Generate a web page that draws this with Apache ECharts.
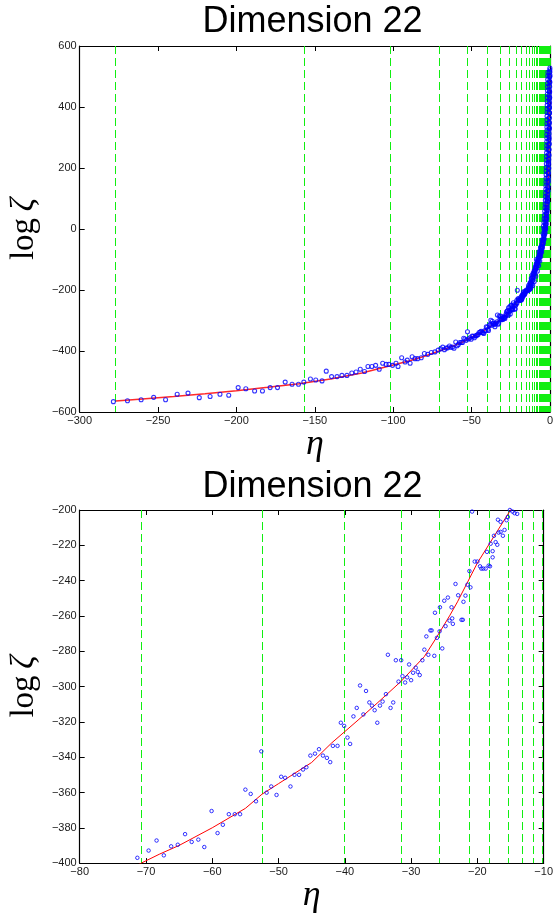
<!DOCTYPE html>
<html>
<head>
<meta charset="utf-8">
<script src="https://cdn.jsdelivr.net/npm/echarts@6/dist/echarts.min.js"></script>
<style>
html,body{margin:0;padding:0;background:#fff;}
#c{width:556px;height:915px;}
</style>
</head>
<body>
<div id="c"></div>
<script>
// ---------------- data ----------------
const titleText = 'Dimension 22';

// axis ranges / ticks
const topX = { min: -300, max: 0, step: 50 };
const topY = { min: -600, max: 600, step: 200 };
const botX = { min: -80, max: -10, step: 10 };
const botY = { min: -400, max: -200, step: 20 };

// observed points (eta, log zeta)
const etaObs = [
  -278.5,-269.5,-260.8,-252.8,-245.2,-237.8,-230.9,-223.7,-216.8,-210.5,-204.9,-198.9,-194,-188.4,-183.4,-178.5,-173.8,-168.9,-164.5,-160.4,
  -157,-152.8,-149.4,-145.4,-142.7,-139.3,-135.8,-132.7,-129.5,-126.4,-123.7,-121,-118.3,-116.1,-113.6,-111.2,-108.9,-106.7,-104.5,-102.7,
  -100.4,-98.2,-96.9,-94.6,-92.4,-91,-89.2,-87.9,-86.1,-84.4,-82.1,-80.1,-77.9,-75.7,-73.4,-71.3,
  -69.6,-68.4,-67.3,-66.2,-65.2,-64.1,-63.1,-62.1,-61.2,-60.1,-59.2,-58.4,-57.5,-56.6,-55.8,-55.0,-54.2,-53.4,-52.6,-51.8,
  -51.1,-50.3,-49.6,-49.0,-48.2,-47.6,-46.9,-46.3,-45.8,-45.2,-44.5,-43.9,-43.3,-42.7,-42.2,-41.8,-41.1,-39.2,
  -40.6,-40.1,-39.6,-38.7,-38.2,-37.7,-37.2,-36.8,-36.3,-35.9,-35.5,-35.1,-34.7,-34.3,-33.8,-33.5,-33.1,-32.7,-32.3,-31.9,
  -31.5,-31.3,-30.9,-30.6,-30.3,-30.0,-29.7,-29.3,-29.0,-28.7,-28.3,-28.0,-27.7,-27.4,-27.1,-26.9,-26.5,-26.1,-25.7,-25.3,
  -24.8,-24.2,-23.7,-23.8,-22.4,-22.2,
  -26.4,-25.65,-25.0,-24.45,-23.9,-23.3,-22.9,-22.1,-21.8,-21.5,-21.2,-21.05,-20.8,-20.4,-20.0,-19.6,-19.4,-19.1,-18.75,-18.55,
  -18.3,-18.1,-18.0,-17.7,-17.7,-17.5,-17.25,-17.0,-16.8,-16.5,-16.15,-15.9,-16.9,-16.5,-15.6,-15.4,-15.1,-14.7,-14.4,-14.0,
  -13.8,-13.5,-13.2,-12.9,-12.6,-12.3,-12.0,-11.7,-11.4,-11.1,-10.8,-10.5,-10.2,-9.9,-9.6,-9.3,-9.0,-8.7,-8.4,-8.1,
  -7.8,-7.5,-7.2,-6.9,-6.6,-6.3,-6.0,-5.7,-5.4,-5.1,-4.8,-4.5,-4.2,-3.9,-3.6,-3.3,-3.0,-2.8,-2.6,-2.45,
  -2.3,-2.15,-2.0,-1.9,-1.8,-1.7,-1.6,-1.5,-1.4,-1.3,-1.2,-1.1,-1.0,-0.92,-0.85,-0.78,-0.72,-0.66,-0.6,-0.55,
  -0.5,-0.46,-0.42,-0.38,-0.34,-0.31,-0.28,-0.25,-0.22,-0.19,-0.16,-0.13,-0.1,-0.07,-0.04,
  -13.6,-13.0,-12.7,-12.1,-11.9,-11.5,-11.2,-10.9,-10.6,-10.3,-10.0,-9.7,-9.4,-9.1,-8.8,-8.5,-8.2,-7.9,-7.6,-7.3,
  -7.0,-6.7,-6.4,-6.1,-5.8,-5.5,-5.2,-4.9,-4.6,-4.3,-4.0,-3.7,-3.4,-3.1,-2.9,-2.7,-2.5,-2.35,-2.2,-2.05,
  -1.95,-1.75,-1.65,-1.45,-1.35,-1.15,-1.05,-0.95,-0.88,-0.75,-0.7,-0.6,-0.56,-0.48,-0.44,-0.36,-0.33,-0.26,-0.24,-0.17,
  -0.14,-0.08,-0.06,-0.02
];
const logZetaObs = [
  -566,-563,-560,-552,-560,-542,-538,-553,-549,-542,-545,-520,-524,-531,-531,-520,-520,-502,-509,-509,
  -502,-492,-495,-498,-466,-484,-484,-480,-480,-472,-469,-460,-467,-451,-451,-447,-460,-440,-444,-444,
  -447,-440,-451,-422,-436,-430,-440,-419,-425,-425,-422,-408,-411,-405,-403,-397,
  -392.9,-387.2,-395.6,-390.5,-389.6,-383.6,-388,-386.7,-390.9,-370.5,-383,-378.3,-372.3,-372.3,-372.3,-358.4,-360.8,-365,-336.7,-360.1,
  -356.6,-361.4,-351.1,-351.7,-356.6,-350,-350,-347,-345.7,-339.1,-338,-335.5,-339.1,-340.4,-342.8,-333.6,-333.6,-332.5,
  -320.5,-322.3,-328.9,-316.9,-312.1,-299.4,-315.8,-302.5,-309,-310.8,-313.4,-320.5,-310.8,-308.5,-304.3,-282,-312.1,-309,-285.1,-297.2,
  -285.1,-294.1,-297.7,-294.8,-287.5,-296.4,-292.2,-289.3,-291.7,-293.5,-285.1,-279.1,-271.6,-282,-268.2,-268.2,-282.6,-272.4,-268.7,-278.4,
  -265.8,-262.7,-264.5,-261.4,-262.2,-262.2,
  -258.2,-255.1,-251.4,-249.6,-255.1,-241.9,-248.3,-252,-248.5,-242.3,-234.6,-243.8,-200.9,-229.2,-229.2,-231.9,-233.2,-233.2,-233.2,-223.7,
  -231.5,-231.9,-219.1,-223.3,-226.8,-214.6,-218.2,-219.7,-212.8,-212.4,-214.6,-211.3,-205.5,-206.7,-205.8,-204,-200,-200.9,-201.8,-202.2,
  -196,-190,-193,-182,-186,-175,-178,-166,-170,-158,-160,-150,-146,-140,-136,-130,-126,-121,-117,-112,
  -107,-101,-96,-91,-85,-80,-74,-68,-62,-56,-50,-43,-36,-28,-20,-11,-2,6,15,24,
  33,43,53,62,72,82,92,103,114,126,139,153,168,182,197,212,228,244,261,278,
  295,312,329,346,364,381,398,415,432,449,466,483,500,515,528,
  -185,-198,-176,-188,-162,-180,-150,-168,-144,-155,-136,-148,-125,-134,-116,-126,-106,-116,-96,-104,
  -86,-93,-75,-83,-62,-71,-50,-58,-38,-46,-22,-33,-5,-14,12,0,30,16,48,35,
  70,60,100,90,135,125,185,160,220,200,260,240,300,280,350,330,400,380,450,430,
  500,480,522,505
];

// dense band of points close to eta = 0 (upper chart)
const etaBand = [
  -4.2,-3.9,-3.7,-3.5,-3.35,-3.2,-3.05,-2.95,-2.85,-2.75,-2.65,-2.6,-2.55,-2.5,-2.45,-2.4,-2.35,-2.3,-2.25,-2.2,
  -2.15,-2.1,-2.08,-2.05,-2.02,-2.0,-1.98,-1.95,-1.92,-1.9,-1.87,-1.84,-1.8,-1.76,-1.72,-1.68,-1.64,-1.6,-1.55,-1.5,
  -1.45,-1.4,-1.3,
  -3.4,-3.0,-2.7,-2.45,-2.25,-2.05,-1.9,-1.75,-1.62,-1.5,-1.4,-1.3,-1.22,-1.15,-1.08,-1.02,-0.96,-0.9,-0.85,-0.8,
  -0.76,-0.72,-0.68,-0.64,-0.6,-0.56,-0.52,-0.48,-0.44,-0.4,-0.36,-0.32,-0.28,-0.24,-0.2,
  -13.0,-12.2,-11.0,-10.0,-9.0,-8.0,-7.2,-6.5,-5.9,-5.3,-4.8,-4.4,-4.0,-3.7,-8.6,-7.0,-6.0,-5.0,-4.4,-3.8
];
const logZetaBand = [
  10,22,34,46,58,70,82,94,106,118,130,142,154,166,178,190,202,214,226,238,
  250,262,274,286,298,310,322,334,346,358,370,382,394,406,418,430,442,454,466,478,
  490,502,514,
  5,20,35,50,65,80,95,110,125,140,155,170,185,200,215,230,245,260,275,290,
  305,320,335,350,365,380,395,410,425,440,455,470,485,500,515,
  -196,-194,-185,-172,-155,-138,-120,-105,-90,-76,-62,-48,-35,-20,-100,-75,-60,-35,-15,0
];

// fitted curve (red)
const etaFit = [-277,-260,-240,-220,-200,-180,-160,-140,-120,-100,-90,-80,-70.7,-68,-65,-60,-55,-52.5,-50,-45,-42,-38,-35,-31.5,-28,-26.3,-24.2,-23,-20,-17.5,-15,-12,-10,-8,-6,-4,-3,-2,-1.5,-1,-0.7,-0.5,-0.3,-0.15];
const logZetaFit = [-564,-557,-549,-540,-530,-519,-507,-492,-472,-446,-433,-417,-400,-395,-390,-380,-369,-361,-355,-343,-332,-319,-309,-297,-283,-273,-260,-252,-230,-215,-200,-175,-145,-115,-80,-38,-5,50,95,170,250,320,420,510];

// vertical dashed reference lines (eta positions)
const vLines = [-277.5,-156.5,-102,-70.7,-52.5,-40.1,-31.5,-25.8,-21.3,-18.2,-15.3,-13.2,-11.6,-10.2,-9.0,-7.9,-7.0,-6.2,-5.5,-4.85,-4.3,-3.8,-3.35,-2.95,-2.6,-2.3,-2.0,-1.75,-1.5,-1.3,-1.1,-0.95,-0.8,-0.67,-0.55,-0.45,-0.36,-0.28,-0.21,-0.15,-0.1,-0.05];

// ---------------- chart ----------------
const chart = echarts.init(document.getElementById('c'), null, { renderer: 'canvas', width: 556, height: 915 });
const pts = etaObs.map((e, i) => [e, logZetaObs[i]]).concat(etaBand.map((e, i) => [e, logZetaBand[i]]));
const fit = etaFit.map((e, i) => [e, logZetaFit[i]]);
const fmt = v => String(v).replace('-', '\u2212');

const sans = '"Liberation Sans", Arial, Helvetica, sans-serif';
const serif = '"Liberation Serif", "Times New Roman", serif';
const axisLine = { show: true, onZero: false, lineStyle: { color: '#000', width: 1.2 } };
const axisTick = { show: true, inside: true, length: 5, lineStyle: { color: '#000', width: 1 } };
const axisLabel = { color: '#1a1a1a', fontSize: 11, fontFamily: sans, formatter: fmt, margin: 3 };

function xAx(g, r, pos, named, gap) {
  const a = { gridIndex: g, type: 'value', min: r.min, max: r.max, interval: r.step, position: pos,
    axisLine, axisTick, splitLine: { show: false },
    axisLabel: pos === 'bottom' ? axisLabel : { show: false } };
  if (named) {
    a.name = 'η'; a.nameLocation = 'middle'; a.nameGap = gap;
    a.nameTextStyle = { fontFamily: serif, fontStyle: 'italic', fontSize: 36, color: '#000' };
  }
  return a;
}
function yAx(g, r, pos, named) {
  const a = { gridIndex: g, type: 'value', min: r.min, max: r.max, interval: r.step, position: pos,
    axisLine, axisTick, splitLine: { show: false },
    axisLabel: pos === 'left' ? axisLabel : { show: false } };
  if (named) {
    a.name = '{a|log}{b|\u2009ζ}'; a.nameLocation = 'middle'; a.nameGap = 34; a.nameRotate = 90;
    a.nameTextStyle = { color: '#000', rich: {
      a: { fontFamily: serif, fontSize: 33, color: '#000' },
      b: { fontFamily: serif, fontStyle: 'italic', fontSize: 33, color: '#000' } } };
  }
  return a;
}

function vlineSeries(xi, yi, r, yr) {
  return {
    type: 'scatter', xAxisIndex: xi, yAxisIndex: yi, data: [], z: 1, silent: true,
    markLine: {
      silent: true, z: 1, symbol: ['none', 'none'], animation: false,
      label: { show: false },
      lineStyle: { color: '#11ee11', type: [8, 4], width: 1 },
      data: vLines.filter(v => v >= r.min && v <= r.max).map(v => [{ coord: [v, yr.max] }, { coord: [v, yr.min] }])
    }
  };
}

const option = {
  animation: false,
  backgroundColor: '#fff',
  title: [
    { text: titleText, left: 312.5, top: 4, textAlign: 'center', padding: 0,
      textStyle: { fontSize: 36, fontWeight: 'normal', fontFamily: sans, color: '#000' } },
    { text: titleText, left: 312.5, top: 469, textAlign: 'center', padding: 0,
      textStyle: { fontSize: 36, fontWeight: 'normal', fontFamily: sans, color: '#000' } }
  ],
  grid: [
    { left: 74, top: 46, width: 477, height: 366 },
    { left: 74, top: 510, width: 477, height: 366 }
  ],
  xAxis: [
    xAx(0, topX, 'bottom', true, 1),
    xAx(0, topX, 'top', false),
    xAx(1, botX, 'bottom', true, 3),
    xAx(1, botX, 'top', false)
  ],
  yAxis: [
    yAx(0, topY, 'left', true),
    yAx(0, topY, 'right', false),
    yAx(1, botY, 'left', true),
    yAx(1, botY, 'right', false)
  ],
  series: [
    vlineSeries(0, 0, topX, topY),
    { type: 'line', xAxisIndex: 0, yAxisIndex: 0, data: fit, showSymbol: false, symbol: 'none', z: 2,
      lineStyle: { color: '#ff2a2a', width: 1.5 }, silent: true },
    { type: 'scatter', xAxisIndex: 0, yAxisIndex: 0, data: pts, symbol: 'circle', symbolSize: 4, z: 3,
      itemStyle: { color: 'rgba(0,0,0,0)', borderColor: '#0000ff', borderWidth: 1.1 } },

    vlineSeries(2, 2, botX, botY),
    { type: 'line', xAxisIndex: 2, yAxisIndex: 2, data: fit, showSymbol: false, symbol: 'none', z: 2,
      lineStyle: { color: '#ff0000', width: 1 }, silent: true },
    { type: 'scatter', xAxisIndex: 2, yAxisIndex: 2, data: pts, symbol: 'circle', symbolSize: 3.5, z: 3,
      itemStyle: { color: 'rgba(0,0,0,0)', borderColor: '#0000ff', borderWidth: 1 } }
  ]
};
chart.setOption(option);
</script>
</body>
</html>
